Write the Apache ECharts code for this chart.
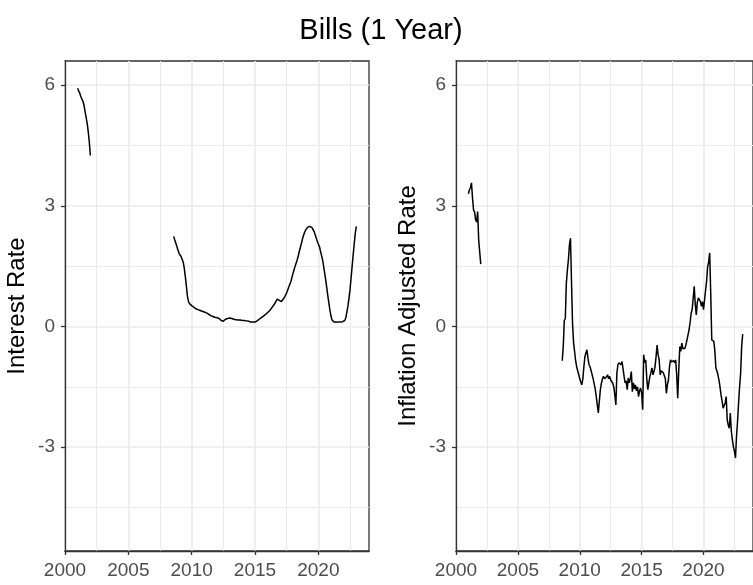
<!DOCTYPE html>
<html><head><meta charset="utf-8">
<script src="https://cdn.jsdelivr.net/npm/echarts@6/dist/echarts.min.js"></script>
<style>html,body{margin:0;padding:0;background:#fff}#c{width:753px;height:585px}</style>
</head><body><div id="c"></div>
<script>
const chartTitle = 'Bills (1 Year)';
const leftAxisTitle = 'Interest Rate';
const rightAxisTitle = 'Inflation Adjusted Rate';
const xTickLabels = [2000, 2005, 2010, 2015, 2020];
const xMinorBreaks = [2002.5, 2007.5, 2012.5, 2017.5, 2022.5];
const yTickLabels = [-3, 0, 3, 6];
const yMinorBreaks = [-4.5, -1.5, 1.5, 4.5];

// first segment (monthly)
const monthsA = ['2001-01','2001-02','2001-03','2001-04','2001-05','2001-06','2001-07','2001-08','2001-09','2001-10','2001-11','2001-12','2002-01'];
const interestA = [5.92,5.85,5.8,5.72,5.65,5.6,5.5,5.35,5.2,5.05,4.85,4.6,4.25];
const realA = [3.3,3.4,3.45,3.57,3.2,2.9,2.85,2.65,2.6,2.86,2.15,1.85,1.55];

// second segment (monthly)
const monthsB = [
 '2008-08','2008-09','2008-10','2008-11','2008-12',
 '2009-01','2009-02','2009-03','2009-04','2009-05','2009-06','2009-07','2009-08','2009-09','2009-10','2009-11','2009-12',
 '2010-01','2010-02','2010-03','2010-04','2010-05','2010-06','2010-07','2010-08','2010-09','2010-10','2010-11','2010-12',
 '2011-01','2011-02','2011-03','2011-04','2011-05','2011-06','2011-07','2011-08','2011-09','2011-10','2011-11','2011-12',
 '2012-01','2012-02','2012-03','2012-04','2012-05','2012-06','2012-07','2012-08','2012-09','2012-10','2012-11','2012-12',
 '2013-01','2013-02','2013-03','2013-04','2013-05','2013-06','2013-07','2013-08','2013-09','2013-10','2013-11','2013-12',
 '2014-01','2014-02','2014-03','2014-04','2014-05','2014-06','2014-07','2014-08','2014-09','2014-10','2014-11','2014-12',
 '2015-01','2015-02','2015-03','2015-04','2015-05','2015-06','2015-07','2015-08','2015-09','2015-10','2015-11','2015-12',
 '2016-01','2016-02','2016-03','2016-04','2016-05','2016-06','2016-07','2016-08','2016-09','2016-10','2016-11','2016-12',
 '2017-01','2017-02','2017-03','2017-04','2017-05','2017-06','2017-07','2017-08','2017-09','2017-10','2017-11','2017-12',
 '2018-01','2018-02','2018-03','2018-04','2018-05','2018-06','2018-07','2018-08','2018-09','2018-10','2018-11','2018-12',
 '2019-01','2019-02','2019-03','2019-04','2019-05','2019-06','2019-07','2019-08','2019-09','2019-10','2019-11','2019-12',
 '2020-01','2020-02','2020-03','2020-04','2020-05','2020-06','2020-07','2020-08','2020-09','2020-10','2020-11','2020-12',
 '2021-01','2021-02','2021-03','2021-04','2021-05','2021-06','2021-07','2021-08','2021-09','2021-10','2021-11','2021-12',
 '2022-01','2022-02','2022-03','2022-04','2022-05','2022-06','2022-07','2022-08','2022-09','2022-10','2022-11','2022-12',
 '2023-01','2023-02','2023-03'
];
const interestB = [
 2.24,2.15,2.07,1.99,1.9,
 1.82,1.78,1.74,1.7,1.6,1.45,1.24,1.0,0.75,0.62,0.57,0.54,
 0.52,0.5,0.48,0.46,0.44,0.43,0.42,0.41,0.4,0.39,0.38,0.37,
 0.36,0.35,0.34,0.33,0.31,0.29,0.27,0.26,0.25,0.24,0.23,0.23,
 0.22,0.21,0.2,0.18,0.15,0.12,0.13,0.17,0.18,0.19,0.2,0.21,
 0.21,0.21,0.2,0.19,0.18,0.17,0.17,0.17,0.16,0.16,0.16,0.15,
 0.15,0.15,0.15,0.15,0.14,0.14,0.13,0.12,0.11,0.11,0.11,0.11,
 0.11,0.12,0.14,0.17,0.18,0.2,0.22,0.24,0.26,0.27,0.3,0.33,
 0.35,0.37,0.4,0.44,0.47,0.5,0.54,0.58,0.63,0.68,0.67,0.65,
 0.64,0.62,0.65,0.69,0.73,0.78,0.84,0.91,0.98,1.05,1.12,1.22,
 1.32,1.41,1.5,1.58,1.66,1.76,1.87,1.97,2.07,2.18,2.27,2.34,
 2.4,2.44,2.47,2.49,2.49,2.48,2.46,2.43,2.36,2.28,2.2,2.12,
 2.05,1.99,1.88,1.77,1.66,1.5,1.33,1.16,0.96,0.76,0.58,0.4,
 0.26,0.16,0.12,0.11,0.11,0.11,0.11,0.11,0.11,0.11,0.12,0.12,
 0.12,0.15,0.21,0.35,0.5,0.7,0.91,1.2,1.49,1.78,2.05,2.32,
 2.49,null,null
];
const realB = [
 -0.85,-0.5,0.15,0.2,1.08,
 1.4,1.66,2.03,2.2,1.12,0.08,-0.4,-0.62,-0.85,-1.0,-1.1,-1.2,
 -1.3,-1.38,-1.45,-1.3,-1.0,-0.75,-0.65,-0.58,-0.8,-0.95,-1.0,-1.03,
 -1.2,-1.3,-1.33,-1.55,-1.74,-1.95,-2.15,-1.85,-1.57,-1.41,-1.3,-1.24,
 -1.3,-1.33,-1.25,-1.2,-1.3,-1.24,-1.33,-1.3,-1.41,-1.5,-1.7,-1.95,
 -1.16,-0.95,-0.9,-0.87,-0.95,-0.87,-0.83,-1.24,-1.4,-1.35,-1.57,-1.28,
 -1.4,-1.3,-1.12,-1.62,-1.4,-1.55,-1.45,-1.6,-1.5,-1.74,-1.6,-1.53,
 -1.65,-2.07,-0.7,-0.9,-0.83,-1.3,-1.57,-1.4,-1.24,-1.15,-1.03,-1.2,
 -1.12,-1.0,-0.75,-0.46,-0.7,-0.83,-1.2,-1.1,-1.08,-1.15,-1.16,-1.3,
 -1.66,-1.45,-1.33,-1.0,-0.83,-0.88,-0.91,-0.85,-0.9,-0.83,-1.2,-1.78,
 -1.1,-0.5,-0.62,-0.41,-0.55,-0.58,-0.54,-0.45,-0.33,-0.3,-0.08,0.1,
 0.33,0.42,0.71,1.0,0.55,0.29,0.6,0.71,0.75,0.62,0.5,0.62,
 0.42,0.66,0.9,1.12,1.49,1.6,1.83,0.83,-0.33,-0.35,-0.37,-0.6,
 -1.03,-1.1,-1.2,-1.33,-1.5,-1.7,-1.85,-2.03,-2.07,-1.9,-1.74,-2.32,
 -2.45,-2.53,-2.15,-2.6,-2.82,-2.99,-3.1,-3.27,-2.74,-2.36,-1.9,-1.5,
 -1.16,-0.5,-0.19
];

const FONT = '"Liberation Sans", Arial, sans-serif';
const toYear = m => { const [y, mo] = m.split('-').map(Number); return y + (mo - 1) / 12; };
const pairs = (months, vals) => months.map((m, i) => [toYear(m), vals[i]]);

const grids = [
  {left: 65, top: 61, width: 304, height: 490},
  {left: 456, top: 61, width: 301, height: 490}
];
const titles = [leftAxisTitle, rightAxisTitle];

const xAxes = [], yAxes = [];
grids.forEach((g, gi) => {
  xAxes.push({
    type: 'value', gridIndex: gi, min: 2000, max: 2024,
    axisLine: {show: true, onZero: false, lineStyle: {color: '#333333', width: 1.3}},
    axisTick: {show: true, length: 4, customValues: xTickLabels, lineStyle: {color: '#333333', width: 1.3}},
    axisLabel: {customValues: xTickLabels, formatter: v => String(v), color: '#4d4d4d', fontSize: 19, fontFamily: FONT, margin: 10},
    splitLine: {show: true, lineStyle: {color: '#ebebeb', width: 1.6}}
  });
  xAxes.push({
    type: 'value', gridIndex: gi, min: 2000, max: 2024, position: 'bottom',
    axisLine: {show: false}, axisLabel: {show: false},
    axisTick: {show: false, customValues: xMinorBreaks},
    splitLine: {show: true, lineStyle: {color: '#ebebeb', width: 1}}
  });
  yAxes.push({
    type: 'value', gridIndex: gi, min: -5.58, max: 6.6,
    name: titles[gi], nameLocation: 'middle', nameGap: 36, nameRotate: 90,
    nameTextStyle: {fontSize: 24, color: '#000', fontFamily: FONT},
    axisLine: {show: true, onZero: false, lineStyle: {color: '#333333', width: 1.3}},
    axisTick: {show: true, length: 4, customValues: yTickLabels, lineStyle: {color: '#333333', width: 1.3}},
    axisLabel: {customValues: yTickLabels, formatter: v => String(v), color: '#4d4d4d', fontSize: 19, fontFamily: FONT, margin: 10},
    splitLine: {show: true, lineStyle: {color: '#ebebeb', width: 1.6}}
  });
  yAxes.push({
    type: 'value', gridIndex: gi, min: -5.58, max: 6.6, position: 'left',
    axisLine: {show: false}, axisLabel: {show: false},
    axisTick: {show: false, customValues: yMinorBreaks},
    splitLine: {show: true, lineStyle: {color: '#ebebeb', width: 1}}
  });
});

const lineSeries = (data, gi) => ({
  type: 'line', data: data, xAxisIndex: gi * 2, yAxisIndex: gi * 2,
  showSymbol: false, symbol: 'none', connectNulls: false, silent: true,
  lineStyle: {color: '#000', width: 1.5}, z: 5
});

const chart = echarts.init(document.getElementById('c'), null, {renderer: 'canvas'});
chart.setOption({
  animation: false,
  backgroundColor: '#ffffff',
  graphic: [{
    type: 'text', x: 381, y: 16,
    style: {text: chartTitle, textAlign: 'center', textVerticalAlign: 'top', fontSize: 29, fill: '#000', fontFamily: FONT}
  }],
  grid: grids.map(g => Object.assign({show: true, borderColor: '#333333', borderWidth: 1.3, backgroundColor: 'transparent'}, g)),
  xAxis: xAxes,
  yAxis: yAxes,
  series: [
    lineSeries(pairs(monthsA, interestA), 0),
    lineSeries(pairs(monthsB, interestB), 0),
    lineSeries(pairs(monthsA, realA), 1),
    lineSeries(pairs(monthsB, realB), 1)
  ]
});
</script></body></html>
